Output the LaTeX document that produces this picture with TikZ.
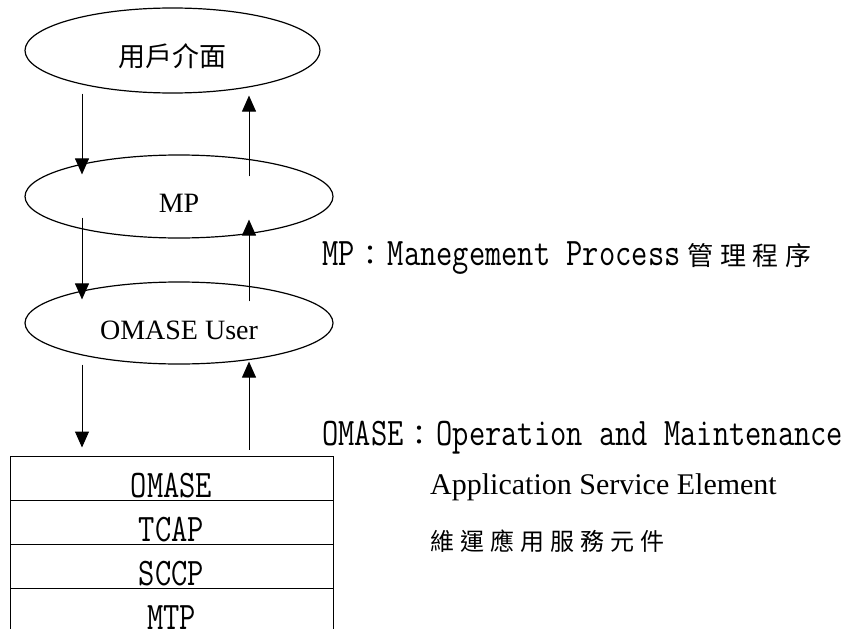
\documentclass[tikz,border=0pt]{standalone}
\usepackage{fontspec}
\usepackage{graphicx}
\setmainfont{Liberation Serif}
\newfontfamily\cjk{Noto Sans CJK TC}
\newfontfamily\cjkwide[LetterSpace=25]{Noto Sans CJK TC}
\usetikzlibrary{positioning,arrows.meta,shapes.geometric}
\newcommand{\narrowtext}[1]{\scalebox{0.81}[1]{\ttfamily\fontsize{39}{40}\selectfont #1}}
\newcommand{\cjkcolon}{\kern2pt{\cjk\fontsize{28}{28}\selectfont ：}\kern3pt}
\tikzset{
	layer/.style={ellipse, draw, line width=1.2pt, text height=32pt, text depth=0pt, font=\fontsize{28}{30}\selectfont},
	stackrow/.style={rectangle, draw, line width=1pt, outer sep=0pt, inner sep=0pt, minimum width=323pt, minimum height=44pt, text height=37pt, text depth=0pt},
	flow/.style={line width=1pt, -{Triangle[length=16pt,width=14pt]}},
	note/.style={anchor=base west, inner sep=0pt, font=\fontsize{28}{30}\selectfont}
}

\begin{document}
\begin{tikzpicture}[x=1pt,y=-1pt]
	\useasboundingbox (0,0) rectangle (857,629);
	\coordinate (lx) at (82,0);
	\coordinate (rx) at (249,0);
	\node[layer, minimum width=295pt, minimum height=85pt] (ui) at (172.5,50.5) {\cjk\fontsize{27}{28}\selectfont 用戶介面};
	\node[layer, minimum width=308pt, minimum height=83pt] (mp) at (179,196.5) {MP};
	\node[layer, minimum width=308pt, minimum height=82pt] (omu) at (179,323) {OMASE User};
	\node[stackrow] (omase) at (171.5,478.5) {\narrowtext{OMASE}};
	\node[stackrow, below=0pt of omase] (tcap) {\narrowtext{TCAP}};
	\node[stackrow, below=0pt of tcap] (sccp) {\narrowtext{SCCP}};
	\node[stackrow, below=0pt of sccp] (mtp) {\narrowtext{MTP}};
	\draw[flow, shorten >=-20pt] (ui.south -| lx) -- (mp.north -| lx);
	\draw[flow, shorten <=-22pt, shorten >=2pt] (mp.north -| rx) -- (ui.south -| rx);
	\draw[flow, shorten <=-21pt, shorten >=-18pt] (mp.south -| lx) -- (omu.north -| lx);
	\draw[flow, shorten <=-20pt, shorten >=-19pt] (omu.north -| rx) -- (mp.south -| rx);
	\draw[flow, shorten >=9pt] (omu.south -| lx) -- (omase.north -| lx);
	\draw[flow, shorten <=7pt, shorten >=-3pt] (omase.north -| rx) -- (omu.south -| rx);
	\node[note] (mpnote) at (322,265) {\narrowtext{MP}\cjkcolon\narrowtext{Manegement Process} {\cjkwide\fontsize{26}{28}\selectfont 管理程序}};
	\node[note] (omnote) at (322,445) {\narrowtext{OMASE}\cjkcolon\narrowtext{Operation and Maintenance}};
	\node[note, font=\fontsize{30}{32}\selectfont] (asenote) at (430,494) {Application Service Element};
	\node[note] (cjknote) at (430,550) {\cjkwide\fontsize{24}{26}\selectfont 維運應用服務元件};
\end{tikzpicture}
\end{document}
